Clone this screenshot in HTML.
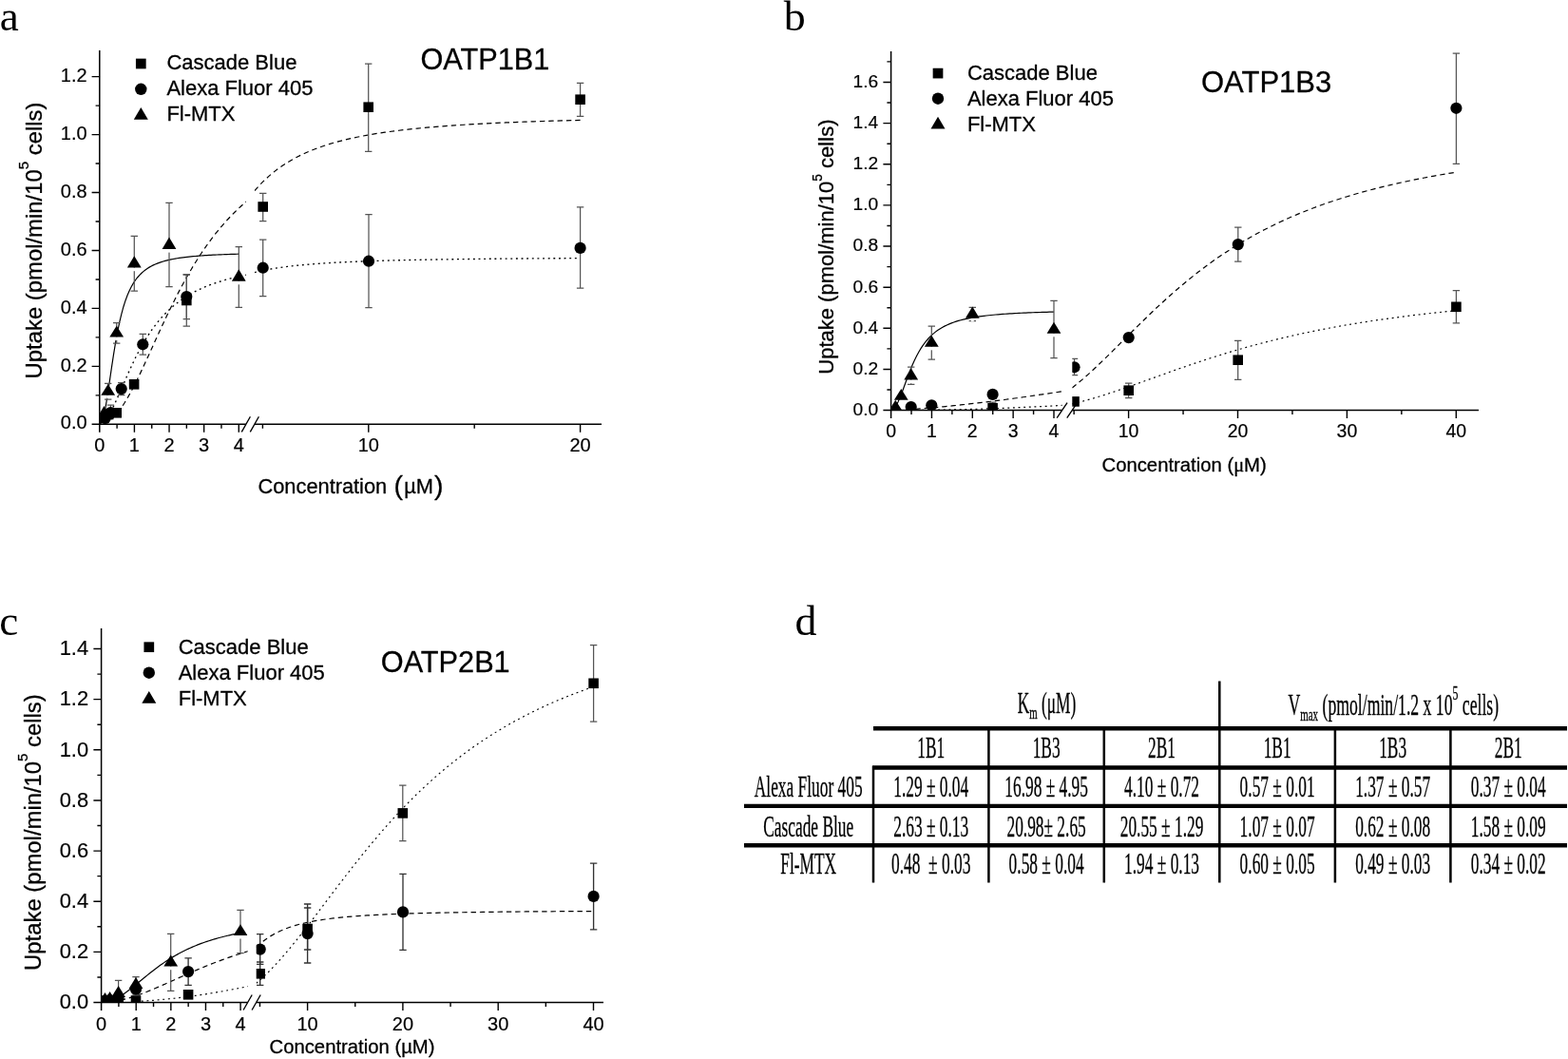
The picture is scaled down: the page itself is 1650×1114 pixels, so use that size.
<!DOCTYPE html>
<html lang="en"><head><meta charset="utf-8"><title>OATP uptake kinetics</title>
<style>html,body{margin:0;padding:0;background:#fff}svg{display:block}text{fill:#000;white-space:pre}.s,.s text{stroke:#000;stroke-width:.3px;stroke-linejoin:round}.t text{stroke:#000;stroke-width:.18px;stroke-linejoin:round}</style></head><body>
<svg width="1650" height="1114" viewBox="0 0 1650 1114" role="img" aria-label="Uptake kinetics of Cascade Blue, Alexa Fluor 405 and Fl-MTX by OATP1B1, OATP1B3 and OATP2B1">
<rect width="1650" height="1114" fill="#fff"/>
<clipPath id="cpa"><rect x="104.8" y="0" width="154.1" height="446.3"/><rect x="267.9" y="0" width="395.1" height="446.3"/></clipPath>
<text transform="translate(-0.3 32.3) scale(1.0 1.0)" font-family='"Liberation Serif", serif' font-size="45">a</text>
<text transform="translate(43.6 398.4) rotate(-90)" class="s" font-family='"Liberation Sans", sans-serif' font-size="23.87">Uptake (pmol/min/10<tspan font-size="15.04" dy="-13.61">5</tspan><tspan dy="13.61"> cells)</tspan></text>
<text x="271.5" y="518.9" class="s" font-family='"Liberation Sans", sans-serif' font-size="21.8">Concentration <tspan font-size="28.5" dy="0.8" dx="1.2">(</tspan><tspan dy="-0.8" dx="1.2">µM</tspan><tspan font-size="28.5" dy="0.8" dx="1.2">)</tspan></text>
<rect x="142.95" y="61.65" width="10.7" height="10.7" fill="#000"/>
<circle cx="148.3" cy="93.8" r="6.2" fill="#000"/>
<path d="M148.3 113L155.8 125.7H140.8Z" fill="#000"/>
<g class="s" font-family='"Liberation Sans", sans-serif' font-size="22.0"><text x="175.4" y="72.5">Cascade Blue</text><text x="175.4" y="99.55">Alexa Fluor 405</text><text x="175.4" y="126.6">Fl-MTX</text></g>
<text x="442.5" y="73" class="s" font-family='"Liberation Sans", sans-serif' font-size="30.7">OATP1B1</text>
<g clip-path="url(#cpa)">
<path d="M104.8 446.3L106.89 444.45L108.99 438.39L111.08 428.47L113.17 415.77L115.26 401.62L117.36 387.18L119.45 373.32L121.54 360.55L123.63 349.1L125.73 339.04L127.82 330.28L129.91 322.71L132 316.19L134.1 310.57L136.19 305.72L138.28 301.53L140.37 297.9L142.47 294.75L144.56 291.99L146.65 289.58L148.74 287.46L150.84 285.59L152.93 283.93L155.02 282.45L157.11 281.14L159.21 279.96L161.3 278.91L163.39 277.96L165.48 277.1L167.58 276.32L169.67 275.61L171.76 274.97L173.85 274.38L175.95 273.84L178.04 273.35L180.13 272.9L182.23 272.48L184.32 272.1L186.41 271.74L188.5 271.41L190.6 271.11L192.69 270.82L194.78 270.56L196.87 270.31L198.97 270.08L201.06 269.87L203.15 269.67L205.24 269.48L207.34 269.3L209.43 269.13L211.52 268.98L213.61 268.83L215.71 268.69L217.8 268.56L219.89 268.44L221.98 268.32L224.08 268.21L226.17 268.11L228.26 268.01L230.35 267.91L232.45 267.82L234.54 267.74L236.63 267.66L238.72 267.58L240.82 267.51L242.91 267.43L245 267.37L247.09 267.3L249.19 267.24L251.28 267.18" stroke="#000" stroke-width="1.2" fill="none"/>
<path d="M109.19 445.62L111.38 444.79L113.57 443.63L115.75 442.14L117.94 440.35L120.13 438.26L122.31 435.88L124.5 433.23L126.69 430.32L128.88 427.16L131.06 423.78L133.25 420.19L135.44 416.4L137.62 412.44L139.81 408.32L142 404.06L144.18 399.68L146.37 395.2L148.56 390.62L150.74 385.98L152.93 381.27L155.12 376.53L157.3 371.75L159.49 366.95L161.68 362.16L163.86 357.36L166.05 352.59L168.24 347.84L170.42 343.12L172.61 338.45L174.8 333.82L176.98 329.25L179.17 324.74L181.36 320.3L183.54 315.92L185.73 311.62L187.92 307.39L190.1 303.24L192.29 299.17L194.48 295.18L196.66 291.28L198.85 287.45L201.04 283.71L203.22 280.06L205.41 276.49L207.6 273L209.78 269.59L211.97 266.27L214.16 263.03L216.34 259.87L218.53 256.78L220.72 253.78L222.9 250.85L225.09 248L227.28 245.22L229.46 242.51L231.65 239.87L233.84 237.31L236.03 234.8L238.21 232.37L240.4 230L242.59 227.69L244.77 225.44L246.96 223.26L249.15 221.13L251.33 219.05L253.52 217.03L255.71 215.07L257.89 213.15L260.08 211.29L262.27 209.47" stroke="#000" stroke-width="1.2" fill="none" stroke-dasharray="5.4 3.93"/>
<path d="M267.9 200.57L272.8 195.11L277.69 190.14L282.59 185.62L287.48 181.49L292.38 177.72L297.27 174.26L302.17 171.1L307.07 168.19L311.96 165.52L316.86 163.05L321.75 160.78L326.65 158.67L331.54 156.73L336.44 154.92L341.34 153.24L346.23 151.68L351.13 150.22L356.02 148.87L360.92 147.6L365.81 146.41L370.71 145.3L375.61 144.26L380.5 143.28L385.4 142.36L390.29 141.5L395.19 140.68L400.08 139.92L404.98 139.19L409.88 138.5L414.77 137.86L419.67 137.24L424.56 136.66L429.46 136.11L434.35 135.59L439.25 135.09L444.15 134.61L449.04 134.16L453.94 133.74L458.83 133.33L463.73 132.94L468.62 132.57L473.52 132.21L478.42 131.87L483.31 131.55L488.21 131.24L493.1 130.94L498 130.65L502.89 130.38L507.79 130.12L512.69 129.87L517.58 129.63L522.48 129.4L527.37 129.17L532.27 128.96L537.16 128.75L542.06 128.55L546.96 128.36L551.85 128.18L556.75 128L561.64 127.83L566.54 127.67L571.43 127.51L576.33 127.35L581.23 127.2L586.12 127.06L591.02 126.92L595.91 126.79L600.81 126.66L605.7 126.53L610.6 126.41" stroke="#000" stroke-width="1.2" fill="none" stroke-dasharray="5.4 3.93"/>
<path d="M110.29 442.76L112.46 439.97L114.64 436.57L116.81 432.7L118.98 428.44L121.15 423.88L123.32 419.11L125.49 414.2L127.66 409.21L129.83 404.21L132 399.23L134.17 394.31L136.35 389.49L138.52 384.79L140.69 380.22L142.86 375.81L145.03 371.55L147.2 367.45L149.37 363.53L151.54 359.77L153.71 356.17L155.88 352.74L158.06 349.47L160.23 346.35L162.4 343.38L164.57 340.55L166.74 337.86L168.91 335.3L171.08 332.86L173.25 330.54L175.42 328.34L177.6 326.24L179.77 324.24L181.94 322.34L184.11 320.52L186.28 318.8L188.45 317.16L190.62 315.59L192.79 314.09L194.96 312.67L197.13 311.3L199.31 310L201.48 308.76L203.65 307.58L205.82 306.44L207.99 305.35L210.16 304.31L212.33 303.32L214.5 302.37L216.67 301.45L218.85 300.58L221.02 299.74L223.19 298.93L225.36 298.15L227.53 297.41L229.7 296.69L231.87 296.01L234.04 295.35L236.21 294.71L238.38 294.1L240.56 293.51L242.73 292.94L244.9 292.39L247.07 291.86L249.24 291.35L251.41 290.86L253.58 290.38L255.75 289.93L257.92 289.48L260.09 289.05L262.27 288.64" stroke="#000" stroke-width="1.35" fill="none" stroke-dasharray="1.9 3.73"/>
<path d="M267.9 286.64L272.8 285.44L277.69 284.37L282.59 283.41L287.48 282.55L292.38 281.78L297.27 281.07L302.17 280.43L307.07 279.85L311.96 279.31L316.86 278.82L321.75 278.37L326.65 277.96L331.54 277.58L336.44 277.22L341.34 276.9L346.23 276.59L351.13 276.31L356.02 276.04L360.92 275.8L365.81 275.57L370.71 275.35L375.61 275.15L380.5 274.96L385.4 274.78L390.29 274.61L395.19 274.45L400.08 274.3L404.98 274.16L409.88 274.03L414.77 273.9L419.67 273.78L424.56 273.67L429.46 273.56L434.35 273.46L439.25 273.36L444.15 273.27L449.04 273.18L453.94 273.09L458.83 273.01L463.73 272.93L468.62 272.86L473.52 272.79L478.42 272.72L483.31 272.66L488.21 272.6L493.1 272.54L498 272.48L502.89 272.42L507.79 272.37L512.69 272.32L517.58 272.27L522.48 272.22L527.37 272.18L532.27 272.14L537.16 272.09L542.06 272.05L546.96 272.01L551.85 271.98L556.75 271.94L561.64 271.91L566.54 271.87L571.43 271.84L576.33 271.81L581.23 271.78L586.12 271.75L591.02 271.72L595.91 271.69L600.81 271.66L605.7 271.64L610.6 271.61" stroke="#000" stroke-width="1.35" fill="none" stroke-dasharray="1.9 3.73"/>
</g>
<g clip-path="url(#cpa)">
<path d="M141.3 248.4V306M137.6 248.4h7.4M137.6 306h7.4" stroke="#555" stroke-width="1.25" fill="none"/>
<path d="M178 213.3V301.7M174.3 213.3h7.4M174.3 301.7h7.4" stroke="#555" stroke-width="1.25" fill="none"/>
<path d="M251.3 259.6V323.4M247.6 259.6h7.4M247.6 323.4h7.4" stroke="#555" stroke-width="1.25" fill="none"/>
<path d="M122.7 339.6V361.2M119 339.6h7.4M119 361.2h7.4" stroke="#555" stroke-width="1.25" fill="none"/>
<path d="M113.7 403.3V420M110 403.3h7.4M110 420h7.4" stroke="#555" stroke-width="1.25" fill="none"/>
<path d="M276.7 203.3V232.7M273 203.3h7.4M273 232.7h7.4" stroke="#555" stroke-width="1.25" fill="none"/>
<path d="M387.7 67.1V159.3M384 67.1h7.4M384 159.3h7.4" stroke="#555" stroke-width="1.25" fill="none"/>
<path d="M610.6 87.3V122.4M606.9 87.3h7.4M606.9 122.4h7.4" stroke="#555" stroke-width="1.25" fill="none"/>
<path d="M196.3 289V343M192.6 289h7.4M192.6 343h7.4" stroke="#555" stroke-width="1.25" fill="none"/>
<path d="M276.7 252V311.6M273 252h7.4M273 311.6h7.4" stroke="#555" stroke-width="1.25" fill="none"/>
<path d="M388 225.6V323.7M384.3 225.6h7.4M384.3 323.7h7.4" stroke="#555" stroke-width="1.25" fill="none"/>
<path d="M610.6 217.9V303.1M606.9 217.9h7.4M606.9 303.1h7.4" stroke="#555" stroke-width="1.25" fill="none"/>
<path d="M196.3 288.6V335.7M192.6 288.6h7.4M192.6 335.7h7.4" stroke="#555" stroke-width="1.25" fill="none"/>
<path d="M150.3 351.3V373.1M146.6 351.3h7.4M146.6 373.1h7.4" stroke="#555" stroke-width="1.25" fill="none"/>
<path d="M127.7 402.7V415.5M124 402.7h7.4M124 415.5h7.4" stroke="#555" stroke-width="1.25" fill="none"/>
<path d="M116.4 426V436M112.7 426h7.4M112.7 436h7.4" stroke="#555" stroke-width="1.25" fill="none"/>
<rect x="139.8" y="281.6" width="3" height="3.6" fill="#fff"/>
<rect x="176.5" y="262" width="3" height="3.6" fill="#fff"/>
<rect x="249.8" y="295.7" width="3" height="3.6" fill="#fff"/>
<rect x="121.2" y="354.4" width="3" height="3.6" fill="#fff"/>
<rect x="112.2" y="415.7" width="3" height="3.6" fill="#fff"/>
<rect x="108" y="439.3" width="3" height="3.6" fill="#fff"/>
<rect x="271.4" y="212.2" width="10.6" height="10.6" fill="#000"/>
<rect x="382.4" y="107.4" width="10.6" height="10.6" fill="#000"/>
<rect x="605.3" y="99.4" width="10.6" height="10.6" fill="#000"/>
<rect x="191" y="310.7" width="10.6" height="10.6" fill="#000"/>
<rect x="135.8" y="399" width="10.6" height="10.6" fill="#000"/>
<rect x="117.4" y="429" width="10.6" height="10.6" fill="#000"/>
<rect x="108.9" y="430.7" width="10.6" height="10.6" fill="#000"/>
<rect x="103.4" y="434.7" width="10.6" height="10.6" fill="#000"/>
<circle cx="276.7" cy="281.7" r="6.1" fill="#000"/>
<circle cx="388" cy="274.7" r="6.1" fill="#000"/>
<circle cx="610.6" cy="260.9" r="6.1" fill="#000"/>
<circle cx="196.3" cy="312" r="6.1" fill="#000"/>
<circle cx="150.3" cy="362.3" r="6.1" fill="#000"/>
<circle cx="127.7" cy="409.1" r="6.1" fill="#000"/>
<circle cx="116.4" cy="434" r="6.1" fill="#000"/>
<circle cx="110.7" cy="440" r="6.1" fill="#000"/>
<path d="M141.3 269.3L148.7 281.6H133.9Z" fill="#000"/>
<path d="M178 249.6L185.4 262H170.6Z" fill="#000"/>
<path d="M251.3 283.3L258.7 295.7H243.9Z" fill="#000"/>
<path d="M122.7 342.7L130.1 354.4H115.3Z" fill="#000"/>
<path d="M113.7 404L121.1 415.7H106.3Z" fill="#000"/>
<path d="M109.5 427L116.9 439.3H102.1Z" fill="#000"/>
</g>
<path d="M104.8 53V454.7" stroke="#000" stroke-width="1.5" fill="none"/>
<path d="M96.6 446.3H258.85M267.85 446.3H633" stroke="#000" stroke-width="1.5" fill="none"/>
<path d="M96.6 385.36H104.8M96.6 324.42H104.8M96.6 263.48H104.8M96.6 202.54H104.8M96.6 141.6H104.8M96.6 80.66H104.8M100.6 415.83H104.8M100.6 354.89H104.8M100.6 293.95H104.8M100.6 233.01H104.8M100.6 172.07H104.8M100.6 111.13H104.8M141.42 446.3v8.4M178.04 446.3v8.4M214.66 446.3v8.4M251.28 446.3v8.4M123.11 446.3v4.4M159.73 446.3v4.4M196.35 446.3v4.4M232.97 446.3v4.4M387.8 446.3v8.4M610.6 446.3v8.4M276.4 446.3v4.4M499.2 446.3v4.4" stroke="#000" stroke-width="1.4" fill="none"/>
<path d="M254.3 454.35L263.4 438.25M263.3 454.35L272.4 438.25" stroke="#000" stroke-width="1.35" fill="none"/>
<g class="t" font-family='"Liberation Sans", sans-serif' font-size="20" text-anchor="end"><text x="91.6" y="451.46">0.0</text><text x="91.6" y="390.52">0.2</text><text x="91.6" y="329.58">0.4</text><text x="91.6" y="268.64">0.6</text><text x="91.6" y="207.7">0.8</text><text x="91.6" y="146.76">1.0</text><text x="91.6" y="85.82">1.2</text></g>
<g class="t" font-family='"Liberation Sans", sans-serif' font-size="20" text-anchor="middle"><text x="104.8" y="475.3">0</text><text x="141.42" y="475.3">1</text><text x="178.04" y="475.3">2</text><text x="214.66" y="475.3">3</text><text x="251.28" y="475.3">4</text><text x="387.8" y="475.3">10</text><text x="610.6" y="475.3">20</text></g>
<clipPath id="cpb"><rect x="937.6" y="0" width="180" height="431.6"/><rect x="1128.3" y="0" width="457.7" height="431.6"/></clipPath>
<text transform="translate(824.8 32.1) scale(1.02 0.965)" font-family='"Liberation Serif", serif' font-size="45">b</text>
<text transform="translate(877.3 393.7) rotate(-90)" class="s" font-family='"Liberation Sans", sans-serif' font-size="22">Uptake (pmol/min/10<tspan font-size="13.86" dy="-12.54">5</tspan><tspan dy="12.54"> cells)</tspan></text>
<text x="1159.5" y="495.6" class="s" font-family='"Liberation Sans", sans-serif' font-size="20.3">Concentration <tspan>(</tspan><tspan><tspan font-family='"Liberation Serif", serif'>μ</tspan>M</tspan><tspan>)</tspan></text>
<rect x="981.65" y="71.75" width="10.7" height="10.7" fill="#000"/>
<circle cx="987" cy="103.7" r="6.2" fill="#000"/>
<path d="M987 122.7L994.5 135.4H979.5Z" fill="#000"/>
<g class="s" font-family='"Liberation Sans", sans-serif' font-size="22.0"><text x="1017.9" y="84">Cascade Blue</text><text x="1017.9" y="111.05">Alexa Fluor 405</text><text x="1017.9" y="138.1">Fl-MTX</text></g>
<text x="1264" y="96.7" class="s" font-family='"Liberation Sans", sans-serif' font-size="31">OATP1B3</text>
<g clip-path="url(#cpb)">
<path d="M937.6 431.6L940.05 430.58L942.5 427.65L944.95 423.11L947.39 417.39L949.84 410.96L952.29 404.23L954.74 397.53L957.19 391.1L959.64 385.08L962.09 379.54L964.53 374.51L966.98 369.99L969.43 365.94L971.88 362.32L974.33 359.1L976.78 356.24L979.23 353.68L981.67 351.41L984.12 349.37L986.57 347.55L989.02 345.92L991.47 344.46L993.92 343.14L996.37 341.94L998.81 340.86L1001.26 339.88L1003.71 338.99L1006.16 338.18L1008.61 337.44L1011.06 336.76L1013.51 336.14L1015.95 335.57L1018.4 335.04L1020.85 334.56L1023.3 334.11L1025.75 333.69L1028.2 333.3L1030.65 332.95L1033.09 332.61L1035.54 332.3L1037.99 332.01L1040.44 331.74L1042.89 331.49L1045.34 331.25L1047.79 331.02L1050.23 330.81L1052.68 330.62L1055.13 330.43L1057.58 330.26L1060.03 330.09L1062.48 329.93L1064.93 329.79L1067.37 329.65L1069.82 329.51L1072.27 329.39L1074.72 329.27L1077.17 329.16L1079.62 329.05L1082.07 328.95L1084.51 328.85L1086.96 328.75L1089.41 328.67L1091.86 328.58L1094.31 328.5L1096.76 328.42L1099.21 328.35L1101.65 328.28L1104.1 328.21L1106.55 328.15L1109 328.08" stroke="#000" stroke-width="1.2" fill="none"/>
<path d="M963.31 430.3L965.57 430.14L967.84 429.97L970.1 429.79L972.37 429.61L974.63 429.43L976.9 429.24L979.16 429.05L981.43 428.85L983.69 428.65L985.96 428.45L988.22 428.24L990.49 428.03L992.75 427.81L995.02 427.59L997.28 427.37L999.55 427.14L1001.81 426.91L1004.08 426.68L1006.34 426.44L1008.61 426.2L1010.87 425.96L1013.14 425.71L1015.4 425.47L1017.67 425.21L1019.93 424.96L1022.2 424.7L1024.46 424.44L1026.73 424.18L1028.99 423.92L1031.26 423.65L1033.52 423.38L1035.79 423.1L1038.05 422.83L1040.32 422.55L1042.58 422.27L1044.85 421.99L1047.11 421.7L1049.38 421.41L1051.64 421.12L1053.91 420.83L1056.17 420.54L1058.44 420.24L1060.7 419.94L1062.97 419.64L1065.23 419.33L1067.5 419.03L1069.76 418.72L1072.03 418.41L1074.29 418.1L1076.56 417.78L1078.82 417.47L1081.09 417.15L1083.35 416.83L1085.62 416.51L1087.88 416.18L1090.15 415.86L1092.41 415.53L1094.68 415.2L1096.94 414.87L1099.21 414.53L1101.47 414.2L1103.74 413.86L1106 413.52L1108.27 413.18L1110.53 412.83L1112.8 412.49L1115.06 412.14L1117.33 411.79L1119.59 411.44L1121.86 411.09" stroke="#000" stroke-width="1.2" fill="none" stroke-dasharray="5.4 3.93"/>
<path d="M1128.3 407.95L1134.07 403.33L1139.84 398.45L1145.61 393.33L1151.39 388.03L1157.16 382.56L1162.93 376.98L1168.7 371.31L1174.47 365.58L1180.24 359.82L1186.01 354.05L1191.79 348.3L1197.56 342.6L1203.33 336.95L1209.1 331.37L1214.87 325.88L1220.64 320.48L1226.41 315.2L1232.19 310.03L1237.96 304.98L1243.73 300.05L1249.5 295.26L1255.27 290.6L1261.04 286.07L1266.81 281.67L1272.59 277.41L1278.36 273.28L1284.13 269.28L1289.9 265.41L1295.67 261.67L1301.44 258.05L1307.21 254.56L1312.99 251.18L1318.76 247.92L1324.53 244.77L1330.3 241.73L1336.07 238.8L1341.84 235.96L1347.61 233.23L1353.39 230.59L1359.16 228.04L1364.93 225.58L1370.7 223.21L1376.47 220.92L1382.24 218.71L1388.01 216.57L1393.79 214.51L1399.56 212.52L1405.33 210.6L1411.1 208.74L1416.87 206.95L1422.64 205.22L1428.41 203.54L1434.19 201.92L1439.96 200.35L1445.73 198.84L1451.5 197.37L1457.27 195.96L1463.04 194.59L1468.81 193.26L1474.59 191.97L1480.36 190.73L1486.13 189.52L1491.9 188.36L1497.67 187.23L1503.44 186.13L1509.21 185.07L1514.99 184.04L1520.76 183.04L1526.53 182.07L1532.3 181.13" stroke="#000" stroke-width="1.2" fill="none" stroke-dasharray="5.4 3.93"/>
<path d="M959.02 431.52L961.35 431.51L963.68 431.49L966 431.47L968.33 431.44L970.66 431.42L972.98 431.39L975.31 431.37L977.63 431.34L979.96 431.3L982.29 431.27L984.61 431.24L986.94 431.2L989.26 431.16L991.59 431.12L993.92 431.08L996.24 431.03L998.57 430.99L1000.9 430.94L1003.22 430.89L1005.55 430.84L1007.87 430.79L1010.2 430.73L1012.53 430.68L1014.85 430.62L1017.18 430.56L1019.5 430.5L1021.83 430.44L1024.16 430.37L1026.48 430.31L1028.81 430.24L1031.14 430.17L1033.46 430.1L1035.79 430.02L1038.11 429.95L1040.44 429.87L1042.77 429.79L1045.09 429.71L1047.42 429.63L1049.74 429.55L1052.07 429.47L1054.4 429.38L1056.72 429.29L1059.05 429.2L1061.38 429.11L1063.7 429.02L1066.03 428.93L1068.35 428.83L1070.68 428.73L1073.01 428.63L1075.33 428.53L1077.66 428.43L1079.98 428.33L1082.31 428.22L1084.64 428.12L1086.96 428.01L1089.29 427.9L1091.62 427.79L1093.94 427.67L1096.27 427.56L1098.59 427.44L1100.92 427.33L1103.25 427.21L1105.57 427.09L1107.9 426.97L1110.22 426.84L1112.55 426.72L1114.88 426.59L1117.2 426.47L1119.53 426.34L1121.86 426.21" stroke="#000" stroke-width="1.2" fill="none" stroke-dasharray="1.9 3.73"/>
<path d="M1128.3 424.84L1134.07 423.46L1139.84 421.97L1145.61 420.39L1151.39 418.72L1157.16 416.98L1162.93 415.17L1168.7 413.29L1174.47 411.37L1180.24 409.4L1186.01 407.4L1191.79 405.37L1197.56 403.31L1203.33 401.24L1209.1 399.17L1214.87 397.09L1220.64 395.01L1226.41 392.94L1232.19 390.88L1237.96 388.84L1243.73 386.82L1249.5 384.82L1255.27 382.85L1261.04 380.91L1266.81 378.99L1272.59 377.11L1278.36 375.27L1284.13 373.45L1289.9 371.68L1295.67 369.94L1301.44 368.24L1307.21 366.57L1312.99 364.95L1318.76 363.36L1324.53 361.81L1330.3 360.3L1336.07 358.83L1341.84 357.39L1347.61 356L1353.39 354.63L1359.16 353.31L1364.93 352.02L1370.7 350.76L1376.47 349.54L1382.24 348.35L1388.01 347.2L1393.79 346.07L1399.56 344.98L1405.33 343.92L1411.1 342.88L1416.87 341.88L1422.64 340.9L1428.41 339.95L1434.19 339.03L1439.96 338.13L1445.73 337.26L1451.5 336.41L1457.27 335.59L1463.04 334.79L1468.81 334.01L1474.59 333.25L1480.36 332.51L1486.13 331.8L1491.9 331.1L1497.67 330.42L1503.44 329.76L1509.21 329.12L1514.99 328.49L1520.76 327.89L1526.53 327.29L1532.3 326.72" stroke="#000" stroke-width="1.2" fill="none" stroke-dasharray="1.9 3.73"/>
</g>
<g clip-path="url(#cpb)">
<path d="M958.7 386V404.3M955 386h7.4M955 404.3h7.4" stroke="#555" stroke-width="1.25" fill="none"/>
<path d="M980.3 343V378M976.6 343h7.4M976.6 378h7.4" stroke="#555" stroke-width="1.25" fill="none"/>
<path d="M1023.3 323.3V337.7M1019.6 323.3h7.4M1019.6 337.7h7.4" stroke="#555" stroke-width="1.25" fill="none"/>
<path d="M1109 316.4V376.7M1105.3 316.4h7.4M1105.3 376.7h7.4" stroke="#555" stroke-width="1.25" fill="none"/>
<path d="M1302.8 239.2V275M1299.1 239.2h7.4M1299.1 275h7.4" stroke="#555" stroke-width="1.25" fill="none"/>
<path d="M1532.4 56V172.3M1528.7 56h7.4M1528.7 172.3h7.4" stroke="#555" stroke-width="1.25" fill="none"/>
<path d="M1187.7 403V418.7M1184 403h7.4M1184 418.7h7.4" stroke="#555" stroke-width="1.25" fill="none"/>
<path d="M1302.7 358.4V399.3M1299 358.4h7.4M1299 399.3h7.4" stroke="#555" stroke-width="1.25" fill="none"/>
<path d="M1532.4 305.5V339.8M1528.7 305.5h7.4M1528.7 339.8h7.4" stroke="#555" stroke-width="1.25" fill="none"/>
<path d="M1044.6 423V431M1040.9 423h7.4M1040.9 431h7.4" stroke="#555" stroke-width="1.25" fill="none"/>
<path d="M1130.5 377.3V394.7M1126.8 377.3h7.4M1126.8 394.7h7.4" stroke="#555" stroke-width="1.25" fill="none"/>
<rect x="940.8" y="432.5" width="3" height="3.6" fill="#fff"/>
<rect x="946.8" y="420.7" width="3" height="3.6" fill="#fff"/>
<rect x="957.2" y="399.6" width="3" height="3.6" fill="#fff"/>
<rect x="978.8" y="364.7" width="3" height="3.6" fill="#fff"/>
<rect x="1021.8" y="334.7" width="3" height="3.6" fill="#fff"/>
<rect x="1107.5" y="350.7" width="3" height="3.6" fill="#fff"/>
<rect x="1125.2" y="417.1" width="10.6" height="10.6" fill="#000"/>
<rect x="1039.3" y="423.9" width="10.6" height="10.6" fill="#000"/>
<rect x="1182.4" y="405.4" width="10.6" height="10.6" fill="#000"/>
<rect x="1297.4" y="373.4" width="10.6" height="10.6" fill="#000"/>
<rect x="1527.1" y="317.5" width="10.6" height="10.6" fill="#000"/>
<circle cx="1130.5" cy="386.3" r="6.1" fill="#000"/>
<circle cx="958.7" cy="428" r="6.1" fill="#000"/>
<circle cx="980.3" cy="426.3" r="6.1" fill="#000"/>
<circle cx="1044.6" cy="414.9" r="6.1" fill="#000"/>
<circle cx="1187.7" cy="355.1" r="6.1" fill="#000"/>
<circle cx="1302.8" cy="257.1" r="6.1" fill="#000"/>
<circle cx="1532.4" cy="113.8" r="6.1" fill="#000"/>
<path d="M942.3 420.7L949.7 432.5H934.9Z" fill="#000"/>
<path d="M948.3 409L955.7 420.7H940.9Z" fill="#000"/>
<path d="M958.7 387.3L966.1 399.6H951.3Z" fill="#000"/>
<path d="M980.3 352.7L987.7 364.7H972.9Z" fill="#000"/>
<path d="M1023.3 322.4L1030.7 334.7H1015.9Z" fill="#000"/>
<path d="M1109 338.7L1116.4 350.7H1101.6Z" fill="#000"/>
</g>
<path d="M937.6 54V440" stroke="#000" stroke-width="1.5" fill="none"/>
<path d="M929.4 431.6H1117.6M1128.2 431.6H1556" stroke="#000" stroke-width="1.5" fill="none"/>
<path d="M929.4 388.46H937.6M929.4 345.32H937.6M929.4 302.18H937.6M929.4 259.04H937.6M929.4 215.9H937.6M929.4 172.76H937.6M929.4 129.62H937.6M929.4 86.48H937.6M933.4 410.03H937.6M933.4 366.89H937.6M933.4 323.75H937.6M933.4 280.61H937.6M933.4 237.47H937.6M933.4 194.33H937.6M933.4 151.19H937.6M933.4 108.05H937.6M933.4 64.91H937.6M980.45 431.6v8.4M1023.3 431.6v8.4M1066.15 431.6v8.4M1109 431.6v8.4M959.02 431.6v4.4M1001.88 431.6v4.4M1044.72 431.6v4.4M1087.58 431.6v4.4M1187.6 431.6v8.4M1302.5 431.6v8.4M1417.4 431.6v8.4M1532.3 431.6v8.4M1130.15 431.6v4.4M1245.05 431.6v4.4M1359.95 431.6v4.4M1474.85 431.6v4.4" stroke="#000" stroke-width="1.4" fill="none"/>
<path d="M1112.15 439.6L1123.05 423.6M1122.75 439.6L1133.65 423.6" stroke="#000" stroke-width="1.35" fill="none"/>
<g class="t" font-family='"Liberation Sans", sans-serif' font-size="19.2" text-anchor="end"><text x="924.2" y="436.97">0.0</text><text x="924.2" y="393.83">0.2</text><text x="924.2" y="350.69">0.4</text><text x="924.2" y="307.55">0.6</text><text x="924.2" y="264.41">0.8</text><text x="924.2" y="221.27">1.0</text><text x="924.2" y="178.13">1.2</text><text x="924.2" y="134.99">1.4</text><text x="924.2" y="91.85">1.6</text></g>
<g class="t" font-family='"Liberation Sans", sans-serif' font-size="19.5" text-anchor="middle"><text x="937.6" y="460.3">0</text><text x="980.45" y="460.3">1</text><text x="1023.3" y="460.3">2</text><text x="1066.15" y="460.3">3</text><text x="1109" y="460.3">4</text><text x="1187.6" y="460.3">10</text><text x="1302.5" y="460.3">20</text><text x="1417.4" y="460.3">30</text><text x="1532.3" y="460.3">40</text></g>
<clipPath id="cpc"><rect x="106.6" y="0" width="154" height="1054.5"/><rect x="269.7" y="0" width="395.3" height="1054.5"/></clipPath>
<text transform="translate(-0.8 668.1) scale(1.0 1.0)" font-family='"Liberation Serif", serif' font-size="45">c</text>
<text transform="translate(42.8 1020.9) rotate(-90)" class="s" font-family='"Liberation Sans", sans-serif' font-size="23.85">Uptake (pmol/min/10<tspan font-size="15.03" dy="-13.59">5</tspan><tspan dy="13.59"> cells)</tspan></text>
<text x="283.5" y="1107.5" class="s" font-family='"Liberation Sans", sans-serif' font-size="20.3">Concentration <tspan>(</tspan><tspan>µM</tspan><tspan>)</tspan></text>
<rect x="151.45" y="675.35" width="10.7" height="10.7" fill="#000"/>
<circle cx="156.8" cy="707.7" r="6.2" fill="#000"/>
<path d="M156.8 727L164.3 739.7H149.3Z" fill="#000"/>
<g class="s" font-family='"Liberation Sans", sans-serif' font-size="22.0"><text x="187.7" y="688.3">Cascade Blue</text><text x="187.7" y="715.35">Alexa Fluor 405</text><text x="187.7" y="742.4">Fl-MTX</text></g>
<text x="400.8" y="706.5" class="s" font-family='"Liberation Sans", sans-serif' font-size="30.7">OATP2B1</text>
<g clip-path="url(#cpc)">
<path d="M115.75 1053.02L117.72 1052.34L119.68 1051.54L121.64 1050.62L123.6 1049.61L125.56 1048.49L127.53 1047.29L129.49 1046.01L131.45 1044.65L133.41 1043.24L135.37 1041.77L137.33 1040.26L139.3 1038.71L141.26 1037.13L143.22 1035.54L145.18 1033.92L147.14 1032.31L149.11 1030.69L151.07 1029.07L153.03 1027.46L154.99 1025.87L156.95 1024.29L158.91 1022.74L160.88 1021.2L162.84 1019.7L164.8 1018.22L166.76 1016.77L168.72 1015.35L170.69 1013.97L172.65 1012.62L174.61 1011.3L176.57 1010.02L178.53 1008.77L180.49 1007.55L182.46 1006.37L184.42 1005.23L186.38 1004.12L188.34 1003.04L190.3 1001.99L192.26 1000.97L194.23 999.99L196.19 999.04L198.15 998.12L200.11 997.22L202.07 996.36L204.04 995.52L206 994.71L207.96 993.92L209.92 993.16L211.88 992.43L213.84 991.71L215.81 991.02L217.77 990.36L219.73 989.71L221.69 989.09L223.65 988.48L225.61 987.89L227.58 987.33L229.54 986.78L231.5 986.24L233.46 985.73L235.42 985.23L237.39 984.74L239.35 984.28L241.31 983.82L243.27 983.38L245.23 982.95L247.19 982.54L249.16 982.13L251.12 981.74L253.08 981.37" stroke="#000" stroke-width="1.2" fill="none"/>
<path d="M117.59 1053.77L119.68 1053.48L121.77 1053.15L123.86 1052.77L125.96 1052.35L128.05 1051.89L130.14 1051.39L132.23 1050.86L134.33 1050.29L136.42 1049.69L138.51 1049.05L140.6 1048.39L142.7 1047.69L144.79 1046.97L146.88 1046.23L148.97 1045.46L151.07 1044.66L153.16 1043.85L155.25 1043.02L157.34 1042.17L159.44 1041.31L161.53 1040.43L163.62 1039.54L165.72 1038.64L167.81 1037.73L169.9 1036.81L171.99 1035.88L174.09 1034.95L176.18 1034.01L178.27 1033.07L180.36 1032.13L182.46 1031.19L184.55 1030.25L186.64 1029.3L188.73 1028.36L190.83 1027.43L192.92 1026.49L195.01 1025.56L197.1 1024.64L199.2 1023.72L201.29 1022.81L203.38 1021.9L205.47 1021L207.57 1020.11L209.66 1019.22L211.75 1018.35L213.84 1017.48L215.94 1016.62L218.03 1015.78L220.12 1014.94L222.21 1014.11L224.31 1013.29L226.4 1012.48L228.49 1011.69L230.58 1010.9L232.68 1010.12L234.77 1009.36L236.86 1008.6L238.96 1007.86L241.05 1007.13L243.14 1006.4L245.23 1005.69L247.33 1004.99L249.42 1004.3L251.51 1003.62L253.6 1002.95L255.7 1002.29L257.79 1001.65L259.88 1001.01L261.97 1000.38L264.07 999.77" stroke="#000" stroke-width="1.2" fill="none" stroke-dasharray="5.4 3.93"/>
<path d="M269.7 996.44L274.77 991.88L279.84 987.97L284.91 984.62L289.97 981.74L295.04 979.27L300.11 977.12L305.18 975.27L310.25 973.65L315.32 972.23L320.39 970.98L325.45 969.88L330.52 968.91L335.59 968.05L340.66 967.27L345.73 966.58L350.8 965.96L355.87 965.39L360.93 964.89L366 964.42L371.07 964L376.14 963.62L381.21 963.27L386.28 962.95L391.35 962.66L396.41 962.38L401.48 962.13L406.55 961.9L411.62 961.69L416.69 961.49L421.76 961.3L426.83 961.13L431.89 960.97L436.96 960.81L442.03 960.67L447.1 960.54L452.17 960.42L457.24 960.3L462.31 960.19L467.37 960.09L472.44 959.99L477.51 959.9L482.58 959.81L487.65 959.73L492.72 959.65L497.79 959.58L502.85 959.51L507.92 959.44L512.99 959.38L518.06 959.32L523.13 959.26L528.2 959.21L533.27 959.16L538.33 959.11L543.4 959.06L548.47 959.01L553.54 958.97L558.61 958.93L563.68 958.89L568.75 958.85L573.81 958.81L578.88 958.78L583.95 958.75L589.02 958.71L594.09 958.68L599.16 958.65L604.23 958.62L609.29 958.6L614.36 958.57L619.43 958.54L624.5 958.52" stroke="#000" stroke-width="1.2" fill="none" stroke-dasharray="5.4 3.93"/>
<path d="M143.22 1053.51L144.95 1053.41L146.67 1053.31L148.4 1053.21L150.13 1053.1L151.85 1052.99L153.58 1052.87L155.3 1052.75L157.03 1052.62L158.76 1052.49L160.48 1052.36L162.21 1052.22L163.94 1052.08L165.66 1051.93L167.39 1051.78L169.12 1051.62L170.84 1051.46L172.57 1051.3L174.29 1051.13L176.02 1050.96L177.75 1050.78L179.47 1050.6L181.2 1050.41L182.93 1050.23L184.65 1050.03L186.38 1049.83L188.11 1049.63L189.83 1049.43L191.56 1049.22L193.28 1049L195.01 1048.78L196.74 1048.56L198.46 1048.34L200.19 1048.11L201.92 1047.87L203.64 1047.63L205.37 1047.39L207.1 1047.14L208.82 1046.89L210.55 1046.64L212.27 1046.38L214 1046.12L215.73 1045.85L217.45 1045.58L219.18 1045.31L220.91 1045.03L222.63 1044.75L224.36 1044.47L226.09 1044.18L227.81 1043.88L229.54 1043.59L231.26 1043.29L232.99 1042.98L234.72 1042.68L236.44 1042.36L238.17 1042.05L239.9 1041.73L241.62 1041.41L243.35 1041.08L245.08 1040.75L246.8 1040.42L248.53 1040.08L250.26 1039.74L251.98 1039.4L253.71 1039.05L255.43 1038.7L257.16 1038.34L258.89 1037.98L260.61 1037.62L262.34 1037.26L264.07 1036.89" stroke="#000" stroke-width="1.15" fill="none" stroke-dasharray="1.9 3.73"/>
<path d="M269.7 1034.25L274.77 1029.86L279.84 1025.12L284.91 1020.07L289.97 1014.73L295.04 1009.14L300.11 1003.31L305.18 997.28L310.25 991.08L315.32 984.74L320.39 978.27L325.45 971.72L330.52 965.09L335.59 958.42L340.66 951.72L345.73 945.02L350.8 938.32L355.87 931.66L360.93 925.04L366 918.47L371.07 911.98L376.14 905.56L381.21 899.23L386.28 893L391.35 886.87L396.41 880.86L401.48 874.95L406.55 869.16L411.62 863.5L416.69 857.96L421.76 852.54L426.83 847.25L431.89 842.09L436.96 837.05L442.03 832.14L447.1 827.36L452.17 822.7L457.24 818.16L462.31 813.75L467.37 809.45L472.44 805.27L477.51 801.21L482.58 797.26L487.65 793.42L492.72 789.69L497.79 786.06L502.85 782.54L507.92 779.11L512.99 775.79L518.06 772.56L523.13 769.42L528.2 766.37L533.27 763.41L538.33 760.53L543.4 757.74L548.47 755.02L553.54 752.38L558.61 749.82L563.68 747.33L568.75 744.91L573.81 742.56L578.88 740.27L583.95 738.05L589.02 735.89L594.09 733.8L599.16 731.75L604.23 729.77L609.29 727.84L614.36 725.96L619.43 724.14L624.5 722.36" stroke="#000" stroke-width="1.15" fill="none" stroke-dasharray="1.9 3.73"/>
</g>
<g clip-path="url(#cpc)">
<path d="M253 957.4V1002.6M249.3 957.4h7.4M249.3 1002.6h7.4" stroke="#555" stroke-width="1.25" fill="none"/>
<path d="M179.7 982.3V1042.3M176 982.3h7.4M176 1042.3h7.4" stroke="#555" stroke-width="1.25" fill="none"/>
<path d="M143 1027.7V1046M139.3 1027.7h7.4M139.3 1046h7.4" stroke="#555" stroke-width="1.25" fill="none"/>
<path d="M124.6 1031.4V1052M120.9 1031.4h7.4M120.9 1052h7.4" stroke="#555" stroke-width="1.25" fill="none"/>
<path d="M423.8 826.2V884.7M420.1 826.2h7.4M420.1 884.7h7.4" stroke="#555" stroke-width="1.25" fill="none"/>
<path d="M624.6 678.5V759.2M620.9 678.5h7.4M620.9 759.2h7.4" stroke="#555" stroke-width="1.25" fill="none"/>
<path d="M273.7 1012V1036.3M270 1012h7.4M270 1036.3h7.4" stroke="#333" stroke-width="1.35" fill="none"/>
<path d="M323.6 955V999M319.9 955h7.4M319.9 999h7.4" stroke="#333" stroke-width="1.35" fill="none"/>
<path d="M198.1 1007.9V1036.3M194.4 1007.9h7.4M194.4 1036.3h7.4" stroke="#333" stroke-width="1.35" fill="none"/>
<path d="M273.7 982.6V1014.3M270 982.6h7.4M270 1014.3h7.4" stroke="#333" stroke-width="1.35" fill="none"/>
<path d="M323.6 951V1013M319.9 951h7.4M319.9 1013h7.4" stroke="#333" stroke-width="1.35" fill="none"/>
<path d="M424 919.3V999.4M420.3 919.3h7.4M420.3 999.4h7.4" stroke="#333" stroke-width="1.35" fill="none"/>
<path d="M624.6 908.1V977.8M620.9 908.1h7.4M620.9 977.8h7.4" stroke="#333" stroke-width="1.35" fill="none"/>
<rect x="251.5" y="983.9" width="3" height="3.6" fill="#fff"/>
<rect x="178.2" y="1016.6" width="3" height="3.6" fill="#fff"/>
<rect x="141.5" y="1040" width="3" height="3.6" fill="#fff"/>
<rect x="123.1" y="1049" width="3" height="3.6" fill="#fff"/>
<rect x="114.1" y="1055" width="3" height="3.6" fill="#fff"/>
<rect x="109" y="1056" width="3" height="3.6" fill="#fff"/>
<rect x="192.8" y="1041" width="10.6" height="10.6" fill="#000"/>
<rect x="268.4" y="1019" width="10.6" height="10.6" fill="#000"/>
<rect x="318.3" y="971.7" width="10.6" height="10.6" fill="#000"/>
<rect x="418.5" y="850.1" width="10.6" height="10.6" fill="#000"/>
<rect x="619.3" y="713.5" width="10.6" height="10.6" fill="#000"/>
<rect x="137.7" y="1047.2" width="10.6" height="10.6" fill="#000"/>
<rect x="119.3" y="1046.7" width="10.6" height="10.6" fill="#000"/>
<rect x="110.3" y="1047.2" width="10.6" height="10.6" fill="#000"/>
<rect x="105.2" y="1047.7" width="10.6" height="10.6" fill="#000"/>
<circle cx="198.1" cy="1022.1" r="6.1" fill="#000"/>
<circle cx="273.7" cy="998.6" r="6.1" fill="#000"/>
<circle cx="323.6" cy="982.1" r="6.1" fill="#000"/>
<circle cx="424" cy="959.4" r="6.1" fill="#000"/>
<circle cx="624.6" cy="942.9" r="6.1" fill="#000"/>
<circle cx="143" cy="1040.6" r="6.1" fill="#000"/>
<circle cx="124.6" cy="1050" r="6.1" fill="#000"/>
<circle cx="115.6" cy="1052" r="6.1" fill="#000"/>
<circle cx="110.5" cy="1052.5" r="6.1" fill="#000"/>
<path d="M253 972.3L260.4 983.9H245.6Z" fill="#000"/>
<path d="M179.7 1004.6L187.1 1016.6H172.3Z" fill="#000"/>
<path d="M143 1028L150.4 1040H135.6Z" fill="#000"/>
<path d="M124.6 1037L132 1049H117.2Z" fill="#000"/>
<path d="M115.6 1043L123 1055H108.2Z" fill="#000"/>
<path d="M110.5 1044L117.9 1056H103.1Z" fill="#000"/>
</g>
<path d="M106.6 661V1062.9" stroke="#000" stroke-width="1.5" fill="none"/>
<path d="M98.4 1054.5H260.65M269.65 1054.5H635" stroke="#000" stroke-width="1.5" fill="none"/>
<path d="M98.4 1001.36H106.6M98.4 948.22H106.6M98.4 895.08H106.6M98.4 841.94H106.6M98.4 788.8H106.6M98.4 735.66H106.6M98.4 682.52H106.6M102.4 1027.93H106.6M102.4 974.79H106.6M102.4 921.65H106.6M102.4 868.51H106.6M102.4 815.37H106.6M102.4 762.23H106.6M102.4 709.09H106.6M143.22 1054.5v8.4M179.84 1054.5v8.4M216.46 1054.5v8.4M253.08 1054.5v8.4M124.91 1054.5v4.4M161.53 1054.5v4.4M198.15 1054.5v4.4M234.77 1054.5v4.4M323.6 1054.5v8.4M423.9 1054.5v8.4M524.2 1054.5v8.4M624.5 1054.5v8.4M273.45 1054.5v4.4M373.75 1054.5v4.4M474.05 1054.5v4.4M574.35 1054.5v4.4" stroke="#000" stroke-width="1.4" fill="none"/>
<path d="M256.1 1062.5L265.2 1046.5M265.1 1062.5L274.2 1046.5" stroke="#000" stroke-width="1.35" fill="none"/>
<g class="t" font-family='"Liberation Sans", sans-serif' font-size="21.9" text-anchor="end"><text x="93.1" y="1061.24">0.0</text><text x="93.1" y="1008.1">0.2</text><text x="93.1" y="954.96">0.4</text><text x="93.1" y="901.82">0.6</text><text x="93.1" y="848.68">0.8</text><text x="93.1" y="795.54">1.0</text><text x="93.1" y="742.4">1.2</text><text x="93.1" y="689.26">1.4</text></g>
<g class="t" font-family='"Liberation Sans", sans-serif' font-size="20" text-anchor="middle"><text x="106.6" y="1083.9">0</text><text x="143.22" y="1083.9">1</text><text x="179.84" y="1083.9">2</text><text x="216.46" y="1083.9">3</text><text x="253.08" y="1083.9">4</text><text x="323.6" y="1083.9">10</text><text x="423.9" y="1083.9">20</text><text x="524.2" y="1083.9">30</text><text x="624.5" y="1083.9">40</text></g>
<text transform="translate(836.6 668.1) scale(1.02 0.965)" font-family='"Liberation Serif", serif' font-size="45">d</text>
<path d="M919 766.3H1649M918 807.5H1649M783 847.9H1649M783 889.2H1649" stroke="#000" stroke-width="4.4" fill="none"/>
<path d="M919.0 806V928.5M1040.4 766V928.5M1161.8 766V928.5M1283.3 716.5V928.5M1404.9 766V928.5M1526.4 766V928.5" stroke="#000" stroke-width="2.5" fill="none"/>
<text transform="translate(1101.5 749.8) scale(0.546 1)" text-anchor="middle" font-family='"Liberation Serif", serif' font-size="31.8" stroke="#000" stroke-width="0.3">K<tspan font-size="19.72" dy="5.72">m</tspan><tspan dy="-5.72"> (μM)</tspan></text>
<text transform="translate(1466.3 752.2) scale(0.556 1)" text-anchor="middle" font-family='"Liberation Serif", serif' font-size="31.8" stroke="#000" stroke-width="0.3">V<tspan font-size="19.72" dy="5.72">max</tspan><tspan dy="-5.72"> (pmol/min/1.2 x 10</tspan><tspan font-size="21.31" dy="-15.9">5</tspan><tspan dy="15.9"> cells)</tspan></text>
<text transform="translate(979.7 797.4) scale(0.546 1)" text-anchor="middle" font-family='"Liberation Serif", serif' font-size="31.8" stroke="#000" stroke-width="0.3">1B1</text>
<text transform="translate(1101.1 797.4) scale(0.546 1)" text-anchor="middle" font-family='"Liberation Serif", serif' font-size="31.8" stroke="#000" stroke-width="0.3">1B3</text>
<text transform="translate(1222.55 797.4) scale(0.546 1)" text-anchor="middle" font-family='"Liberation Serif", serif' font-size="31.8" stroke="#000" stroke-width="0.3">2B1</text>
<text transform="translate(1344.1 797.4) scale(0.546 1)" text-anchor="middle" font-family='"Liberation Serif", serif' font-size="31.8" stroke="#000" stroke-width="0.3">1B1</text>
<text transform="translate(1465.65 797.4) scale(0.546 1)" text-anchor="middle" font-family='"Liberation Serif", serif' font-size="31.8" stroke="#000" stroke-width="0.3">1B3</text>
<text transform="translate(1587.2 797.4) scale(0.546 1)" text-anchor="middle" font-family='"Liberation Serif", serif' font-size="31.8" stroke="#000" stroke-width="0.3">2B1</text>
<text transform="translate(850.7 838.1) scale(0.546 1)" text-anchor="middle" font-family='"Liberation Serif", serif' font-size="31.8" stroke="#000" stroke-width="0.3">Alexa Fluor 405</text>
<text transform="translate(979.7 838.1) scale(0.546 1)" text-anchor="middle" font-family='"Liberation Serif", serif' font-size="31.8" stroke="#000" stroke-width="0.3">1.29 ± 0.04</text>
<text transform="translate(1101.1 838.1) scale(0.546 1)" text-anchor="middle" font-family='"Liberation Serif", serif' font-size="31.8" stroke="#000" stroke-width="0.3">16.98 ± 4.95</text>
<text transform="translate(1222.55 838.1) scale(0.546 1)" text-anchor="middle" font-family='"Liberation Serif", serif' font-size="31.8" stroke="#000" stroke-width="0.3">4.10 ± 0.72</text>
<text transform="translate(1344.1 838.1) scale(0.546 1)" text-anchor="middle" font-family='"Liberation Serif", serif' font-size="31.8" stroke="#000" stroke-width="0.3">0.57 ± 0.01</text>
<text transform="translate(1465.65 838.1) scale(0.546 1)" text-anchor="middle" font-family='"Liberation Serif", serif' font-size="31.8" stroke="#000" stroke-width="0.3">1.37 ± 0.57</text>
<text transform="translate(1587.2 838.1) scale(0.546 1)" text-anchor="middle" font-family='"Liberation Serif", serif' font-size="31.8" stroke="#000" stroke-width="0.3">0.37 ± 0.04</text>
<text transform="translate(850.7 879.6) scale(0.546 1)" text-anchor="middle" font-family='"Liberation Serif", serif' font-size="31.8" stroke="#000" stroke-width="0.3">Cascade Blue</text>
<text transform="translate(979.7 879.6) scale(0.546 1)" text-anchor="middle" font-family='"Liberation Serif", serif' font-size="31.8" stroke="#000" stroke-width="0.3">2.63 ± 0.13</text>
<text transform="translate(1101.1 879.6) scale(0.546 1)" text-anchor="middle" font-family='"Liberation Serif", serif' font-size="31.8" stroke="#000" stroke-width="0.3">20.98± 2.65</text>
<text transform="translate(1222.55 879.6) scale(0.546 1)" text-anchor="middle" font-family='"Liberation Serif", serif' font-size="31.8" stroke="#000" stroke-width="0.3">20.55 ± 1.29</text>
<text transform="translate(1344.1 879.6) scale(0.546 1)" text-anchor="middle" font-family='"Liberation Serif", serif' font-size="31.8" stroke="#000" stroke-width="0.3">1.07 ± 0.07</text>
<text transform="translate(1465.65 879.6) scale(0.546 1)" text-anchor="middle" font-family='"Liberation Serif", serif' font-size="31.8" stroke="#000" stroke-width="0.3">0.62 ± 0.08</text>
<text transform="translate(1587.2 879.6) scale(0.546 1)" text-anchor="middle" font-family='"Liberation Serif", serif' font-size="31.8" stroke="#000" stroke-width="0.3">1.58 ± 0.09</text>
<text transform="translate(850.7 919.1) scale(0.546 1)" text-anchor="middle" font-family='"Liberation Serif", serif' font-size="31.8" stroke="#000" stroke-width="0.3">Fl-MTX</text>
<text transform="translate(979.7 919.1) scale(0.546 1)" text-anchor="middle" font-family='"Liberation Serif", serif' font-size="31.8" stroke="#000" stroke-width="0.3">0.48  ± 0.03</text>
<text transform="translate(1101.1 919.1) scale(0.546 1)" text-anchor="middle" font-family='"Liberation Serif", serif' font-size="31.8" stroke="#000" stroke-width="0.3">0.58 ± 0.04</text>
<text transform="translate(1222.55 919.1) scale(0.546 1)" text-anchor="middle" font-family='"Liberation Serif", serif' font-size="31.8" stroke="#000" stroke-width="0.3">1.94 ± 0.13</text>
<text transform="translate(1344.1 919.1) scale(0.546 1)" text-anchor="middle" font-family='"Liberation Serif", serif' font-size="31.8" stroke="#000" stroke-width="0.3">0.60 ± 0.05</text>
<text transform="translate(1465.65 919.1) scale(0.546 1)" text-anchor="middle" font-family='"Liberation Serif", serif' font-size="31.8" stroke="#000" stroke-width="0.3">0.49 ± 0.03</text>
<text transform="translate(1587.2 919.1) scale(0.546 1)" text-anchor="middle" font-family='"Liberation Serif", serif' font-size="31.8" stroke="#000" stroke-width="0.3">0.34 ± 0.02</text>
</svg></body></html>
